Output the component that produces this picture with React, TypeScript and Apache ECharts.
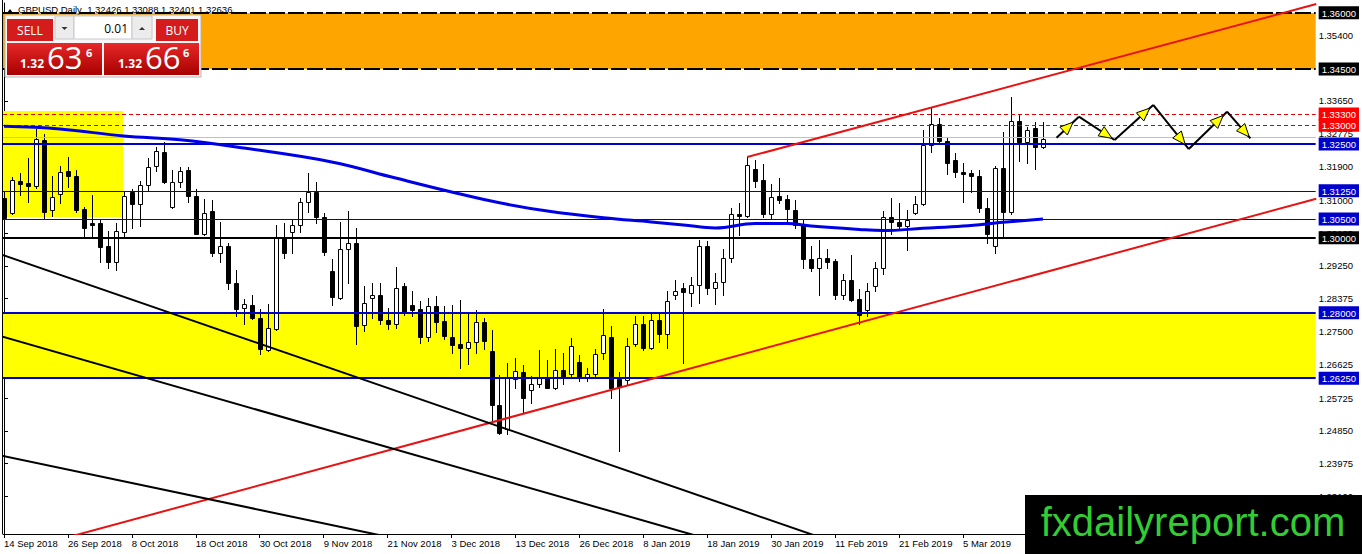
import React, { useEffect, useRef } from "react";
import * as echarts from "echarts";

// ---------- data ----------
const DATE_LABELS = [
  "14 Sep 2018", "26 Sep 2018", "8 Oct 2018", "18 Oct 2018", "30 Oct 2018", "9 Nov 2018",
  "21 Nov 2018", "3 Dec 2018", "13 Dec 2018", "26 Dec 2018", "8 Jan 2019", "18 Jan 2019",
  "30 Jan 2019", "11 Feb 2019", "21 Feb 2019", "5 Mar 2019",
];
const BARS_PER_LABEL = 8;

// daily bars [open, high, low, close] from 14 Sep 2018
const BARS_SEP_NOV = [
  [1.3105, 1.3125, 1.3045, 1.3052], [1.3065, 1.3161, 1.3062, 1.3153], [1.3150, 1.3172, 1.3113, 1.3142],
  [1.3145, 1.3212, 1.3094, 1.3137], [1.3137, 1.3290, 1.3132, 1.3263], [1.3260, 1.3276, 1.3049, 1.3068],
  [1.3073, 1.3164, 1.3057, 1.3108], [1.3116, 1.3191, 1.3092, 1.3175], [1.3177, 1.3215, 1.3134, 1.3164],
  [1.3164, 1.3180, 1.3068, 1.3073], [1.3076, 1.3081, 1.3001, 1.3025], [1.3038, 1.3113, 1.3001, 1.3033],
  [1.3038, 1.3046, 1.2934, 1.2974], [1.2979, 1.3019, 1.2918, 1.2934], [1.2934, 1.3038, 1.2915, 1.3017],
  [1.3014, 1.3121, 1.3001, 1.3110], [1.3121, 1.3129, 1.3025, 1.3089], [1.3089, 1.3150, 1.3030, 1.3140],
  [1.3140, 1.3212, 1.3124, 1.3188], [1.3191, 1.3241, 1.3177, 1.3231], [1.3228, 1.3255, 1.3145, 1.3148],
  [1.3081, 1.3180, 1.3078, 1.3148], [1.3148, 1.3188, 1.3134, 1.3177], [1.3180, 1.3188, 1.3094, 1.3110],
  [1.3110, 1.3129, 1.3009, 1.3011], [1.3011, 1.3102, 1.3006, 1.3065], [1.3070, 1.3100, 1.2950, 1.2958],
  [1.2958, 1.3041, 1.2934, 1.2979], [1.2979, 1.2987, 1.2864, 1.2878], [1.2878, 1.2915, 1.2792, 1.2811],
  [1.2813, 1.2837, 1.2771, 1.2824], [1.2821, 1.2848, 1.2784, 1.2787], [1.2787, 1.2811, 1.2690, 1.2704],
  [1.2701, 1.2824, 1.2698, 1.2760], [1.2757, 1.3033, 1.2754, 1.3003], [1.3003, 1.3038, 1.2947, 1.2958],
  [1.3014, 1.3051, 1.2958, 1.3035], [1.3035, 1.3105, 1.3014, 1.3094], [1.3094, 1.3172, 1.3068, 1.3121],
  [1.3121, 1.3148, 1.3038, 1.3054],
];
const BARS_NOV_JAN = [
  [1.3054, 1.3065, 1.2953, 1.2963], [1.2910, 1.2942, 1.2821, 1.2843], [1.2840, 1.3043, 1.2837, 1.2971],
  [1.2971, 1.3070, 1.2878, 1.2985], [1.2985, 1.3027, 1.2717, 1.2765], [1.2768, 1.2872, 1.2752, 1.2827],
  [1.2840, 1.2880, 1.2787, 1.2848], [1.2848, 1.2880, 1.2771, 1.2781], [1.2781, 1.2813, 1.2757, 1.2771],
  [1.2771, 1.2923, 1.2760, 1.2867], [1.2870, 1.2878, 1.2795, 1.2803], [1.2821, 1.2859, 1.2792, 1.2808],
  [1.2811, 1.2832, 1.2720, 1.2736], [1.2736, 1.2840, 1.2725, 1.2819], [1.2819, 1.2845, 1.2749, 1.2776],
  [1.2779, 1.2819, 1.2730, 1.2738], [1.2736, 1.2821, 1.2693, 1.2714], [1.2717, 1.2835, 1.2653, 1.2706],
  [1.2706, 1.2797, 1.2664, 1.2722], [1.2722, 1.2808, 1.2693, 1.2776], [1.2776, 1.2787, 1.2704, 1.2725],
  [1.2698, 1.2754, 1.2511, 1.2554], [1.2554, 1.2634, 1.2476, 1.2479], [1.2490, 1.2666, 1.2476, 1.2628],
  [1.2623, 1.2680, 1.2599, 1.2645], [1.2642, 1.2661, 1.2532, 1.2572], [1.2594, 1.2631, 1.2559, 1.2610],
  [1.2610, 1.2701, 1.2602, 1.2629], [1.2629, 1.2674, 1.2599, 1.2599], [1.2599, 1.2704, 1.2597, 1.2647],
  [1.2647, 1.2693, 1.2610, 1.2626], [1.2637, 1.2733, 1.2631, 1.2712], [1.2669, 1.2688, 1.2618, 1.2626],
  [1.2626, 1.2653, 1.2618, 1.2637], [1.2637, 1.2704, 1.2631, 1.2690], [1.2693, 1.2811, 1.2677, 1.2741],
  [1.2736, 1.2765, 1.2572, 1.2599], [1.2623, 1.2642, 1.2431, 1.2602], [1.2621, 1.2733, 1.2610, 1.2712],
  [1.2717, 1.2792, 1.2712, 1.2771],
];
const BARS_JAN_MAR = [
  [1.2771, 1.2792, 1.2701, 1.2706], [1.2706, 1.2797, 1.2704, 1.2781], [1.2781, 1.2797, 1.2722, 1.2744],
  [1.2744, 1.2859, 1.2706, 1.2832], [1.2848, 1.2886, 1.2837, 1.2859], [1.2867, 1.2878, 1.2666, 1.2856],
  [1.2853, 1.2894, 1.2819, 1.2875], [1.2875, 1.2995, 1.2827, 1.2977], [1.2977, 1.2990, 1.2851, 1.2867],
  [1.2867, 1.2907, 1.2824, 1.2883], [1.2883, 1.2971, 1.2848, 1.2947], [1.2947, 1.3078, 1.2936, 1.3062],
  [1.3062, 1.3092, 1.3006, 1.3057], [1.3057, 1.3215, 1.3054, 1.3193], [1.3183, 1.3207, 1.3134, 1.3150],
  [1.3153, 1.3196, 1.3054, 1.3062], [1.3062, 1.3142, 1.3051, 1.3108], [1.3110, 1.3158, 1.3092, 1.3100],
  [1.3102, 1.3113, 1.3038, 1.3076], [1.3073, 1.3100, 1.3027, 1.3033], [1.3033, 1.3046, 1.2920, 1.2942],
  [1.2942, 1.2977, 1.2912, 1.2920], [1.2920, 1.2993, 1.2848, 1.2947], [1.2947, 1.2971, 1.2918, 1.2936],
  [1.2939, 1.2942, 1.2837, 1.2848], [1.2848, 1.2904, 1.2837, 1.2886], [1.2886, 1.2955, 1.2832, 1.2835],
  [1.2837, 1.2864, 1.2771, 1.2795], [1.2808, 1.2878, 1.2792, 1.2859], [1.2872, 1.2934, 1.2859, 1.2918],
  [1.2918, 1.3070, 1.2904, 1.3054], [1.3054, 1.3105, 1.3009, 1.3041], [1.3043, 1.3092, 1.3025, 1.3030],
  [1.3030, 1.3073, 1.2966, 1.3046], [1.3065, 1.3110, 1.3062, 1.3089], [1.3089, 1.3287, 1.3086, 1.3247],
  [1.3247, 1.3346, 1.3228, 1.3303], [1.3303, 1.3319, 1.3252, 1.3258], [1.3258, 1.3266, 1.3169, 1.3199],
  [1.3207, 1.3225, 1.3161, 1.3175], [1.3175, 1.3199, 1.3094, 1.3169], [1.3172, 1.3180, 1.3121, 1.3164],
  [1.3164, 1.3180, 1.3068, 1.3078], [1.3078, 1.3105, 1.2987, 1.3009], [1.2979, 1.3190, 1.2958, 1.3185],
  [1.3185, 1.3282, 1.2998, 1.3068], [1.3068, 1.3375, 1.3062, 1.3311], [1.3311, 1.3327, 1.3204, 1.3255],
  [1.3255, 1.3295, 1.3199, 1.3287], [1.3292, 1.3308, 1.3183, 1.3241], [1.32426, 1.33088, 1.32401, 1.32636],
];

// moving average (thick blue) read at selected bars
const MA_BARS = [0, 7, 15, 22, 30, 41, 49, 56, 62, 68, 75, 81, 85, 89, 94, 98, 101, 107, 110, 115, 120, 125, 130];
const MA_VALUES = [1.3297, 1.3290, 1.3271, 1.3261, 1.3239, 1.3202, 1.3159, 1.3122, 1.3093, 1.3071, 1.3053, 1.3042,
  1.3034, 1.3026, 1.3038, 1.3038, 1.3031, 1.3022, 1.3019, 1.3025, 1.3031, 1.3041, 1.3050];

// zones [low, high]
const ORANGE_ZONE = [1.345, 1.36];
const YELLOW_BAND = [1.2625, 1.28];
const YELLOW_BOX = [1.3056, 1.3338];
const YELLOW_BOX_LAST_BAR = 14.9;

// horizontal levels
const BLACK_DASHED_LEVELS = [1.36, 1.345];
const RED_DASHED_LEVELS = [1.333, 1.33];
const PRICE_LINE_LEVELS = [1.3268];
const BLUE_THICK_LEVELS = [1.325, 1.28, 1.2625];
const BLUE_THIN_LEVELS = [1.3125, 1.305];
const BLACK_THICK_LEVELS = [1.3];

// right-scale tick labels
const Y_TICKS = [1.354, 1.3365, 1.32775, 1.319, 1.31, 1.30125, 1.2925, 1.28375, 1.275, 1.26625, 1.25725, 1.2485, 1.23975, 1.231];

// trend lines [bar, price]
const RED_UPPER = [[93, 1.3215], [164.2, 1.3623]];
const RED_LOWER = [[0, 1.2155], [164.2, 1.3104]];
const BLACK_A = [[-1, 1.2960], [110, 1.2143]];
const BLACK_B = [[-1, 1.2741], [95, 1.2154]];
const BLACK_C = [[-1, 1.2422], [55, 1.2171]];

// projected zigzag path
const PROJ_BARS = [131.7, 134.5, 138.96, 143.8, 148.25, 153.04, 155.96];
const PROJ_PRICES = [1.32667, 1.33227, 1.32605, 1.33539, 1.32365, 1.3336, 1.32651];

// header / trade panel
const SYMBOL = "GBPUSD,Daily";
const LAST_OHLC = ["1.32426", "1.33088", "1.32401", "1.32636"];
const BID_PARTS = ["1.32", "63", "6"];
const ASK_PARTS = ["1.32", "66", "6"];
const LOT = "0.01";
const WATERMARK = "fxdailyreport.com";

// ---------- view ----------
const X_MIN = -0.125;
const X_MAX = 164.125;
const Y_MIN = 1.220987;
const Y_MAX = 1.362587;
const AXIS_FONT = '"Liberation Sans", Arial, sans-serif';
const BLUE = "#0000cd";
const RED = "#e81212";
const ARROW_TIP_AT = [0.74, 0.93, 0.91, 0.9, 0.9, 0.95];

const ALL_BARS = [...BARS_SEP_NOV, ...BARS_NOV_JAN, ...BARS_JAN_MAR];
const candleData = ALL_BARS.map((r, i) => [i, r[0], r[1], r[2], r[3]]);

const zoneData = [
  [X_MIN, X_MAX, ORANGE_ZONE[0], ORANGE_ZONE[1]],
  [X_MIN, X_MAX, YELLOW_BAND[0], YELLOW_BAND[1]],
  [X_MIN, YELLOW_BOX_LAST_BAR, YELLOW_BOX[0], YELLOW_BOX[1]],
];
const ZONE_COLORS = ["#ffa500", "#ffff00", "#ffff00"];

type LineKind = { stroke: string; width: number; dash?: number[] };
const KIND_BLACK_DASH: LineKind = { stroke: "#000", width: 2, dash: [16, 3] };
const KIND_RED_DASH: LineKind = { stroke: "#e00000", width: 1, dash: [4, 3] };
const KIND_GRAY: LineKind = { stroke: "#c0c0c0", width: 1 };
const KIND_BLUE_THICK: LineKind = { stroke: BLUE, width: 2 };
const KIND_BLUE_THIN: LineKind = { stroke: BLUE, width: 1 };
const KIND_BLACK_THICK: LineKind = { stroke: "#000", width: 2 };

const levelEntries: { v: number; k: LineKind }[] = [
  ...PRICE_LINE_LEVELS.map((v) => ({ v, k: KIND_GRAY })),
  ...BLACK_DASHED_LEVELS.map((v) => ({ v, k: KIND_BLACK_DASH })),
  ...RED_DASHED_LEVELS.map((v) => ({ v, k: KIND_RED_DASH })),
  ...BLUE_THIN_LEVELS.map((v) => ({ v, k: KIND_BLUE_THIN })),
  ...BLUE_THICK_LEVELS.map((v) => ({ v, k: KIND_BLUE_THICK })),
  ...BLACK_THICK_LEVELS.map((v) => ({ v, k: KIND_BLACK_THICK })),
];

const boxedLabel: Record<string, string> = {};
BLACK_DASHED_LEVELS.forEach((v) => (boxedLabel[v.toFixed(5)] = "blk"));
BLACK_THICK_LEVELS.forEach((v) => (boxedLabel[v.toFixed(5)] = "blk"));
RED_DASHED_LEVELS.forEach((v) => (boxedLabel[v.toFixed(5)] = "red"));
BLUE_THICK_LEVELS.forEach((v) => (boxedLabel[v.toFixed(5)] = "blu"));
BLUE_THIN_LEVELS.forEach((v) => (boxedLabel[v.toFixed(5)] = "blu"));
const BOXED_VALUES = [...BLACK_DASHED_LEVELS, ...RED_DASHED_LEVELS, ...BLUE_THICK_LEVELS, ...BLUE_THIN_LEVELS, ...BLACK_THICK_LEVELS];

const projSegments = PROJ_BARS.slice(0, -1).map((b, i) => [b, PROJ_PRICES[i], PROJ_BARS[i + 1], PROJ_PRICES[i + 1]]);

const boxRich = (bg: string) => ({
  backgroundColor: bg,
  color: "#fff",
  fontSize: 9.5,
  fontFamily: AXIS_FONT,
  padding: [2, 3, 1, 3],
});

function renderCandle(params: any, api: any) {
  const i = api.value(0);
  const o = api.value(1), h = api.value(2), l = api.value(3), c = api.value(4);
  const X = Math.round(api.coord([i, o])[0]);
  const yO = api.coord([i, o])[1];
  const yC = api.coord([i, c])[1];
  const yH = Math.round(api.coord([i, h])[1]);
  const yL = Math.round(api.coord([i, l])[1]);
  const top = Math.round(Math.min(yO, yC));
  const bot = Math.round(Math.max(yO, yC));
  const bull = c >= o;
  const children: any[] = [
    { type: "line", shape: { x1: X + 0.5, y1: yH, x2: X + 0.5, y2: yL + 1 }, style: { stroke: "#000", lineWidth: 1 } },
  ];
  if (bot - top < 1) {
    children.push({ type: "line", shape: { x1: X - 2, y1: top + 0.5, x2: X + 3, y2: top + 0.5 }, style: { stroke: "#000", lineWidth: 1 } });
  } else {
    children.push({
      type: "rect",
      shape: { x: X - 1.5, y: top + 0.5, width: 4, height: bot - top },
      style: { fill: bull ? "#fff" : "#000", stroke: "#000", lineWidth: 1 },
    });
  }
  return { type: "group", children };
}

function renderZone(params: any, api: any) {
  const cs = params.coordSys;
  const a = api.coord([api.value(0), api.value(3)]);
  const b = api.coord([api.value(1), api.value(2)]);
  const x0 = Math.max(cs.x, Math.min(a[0], b[0]));
  const x1 = Math.min(cs.x + cs.width, Math.max(a[0], b[0]));
  const y0 = Math.round(Math.min(a[1], b[1]));
  const y1 = Math.round(Math.max(a[1], b[1]));
  return {
    type: "rect",
    shape: { x: x0, y: y0, width: x1 - x0, height: y1 - y0 },
    style: { fill: ZONE_COLORS[params.dataIndex] },
  };
}

function renderLevel(params: any, api: any) {
  const cs = params.coordSys;
  const entry = levelEntries[params.dataIndex];
  const raw = api.coord([0, api.value(0)])[1];
  const y = entry.k.width % 2 === 1 ? Math.round(raw) + 0.5 : Math.round(raw);
  return {
    type: "line",
    shape: { x1: cs.x, y1: y, x2: cs.x + cs.width, y2: y },
    style: { stroke: entry.k.stroke, lineWidth: entry.k.width, lineDash: entry.k.dash || null },
  };
}

function renderArrow(params: any, api: any) {
  const a = api.coord([api.value(0), api.value(1)]);
  const b = api.coord([api.value(2), api.value(3)]);
  const f = ARROW_TIP_AT[params.dataIndex];
  const dx = b[0] - a[0], dy = b[1] - a[1];
  const len = Math.hypot(dx, dy) || 1;
  const ux = dx / len, uy = dy / len;
  const tip = [a[0] + dx * f, a[1] + dy * f];
  const base = [tip[0] - ux * 13, tip[1] - uy * 13];
  const nx = -uy, ny = ux;
  return {
    type: "group",
    children: [
      { type: "line", shape: { x1: a[0], y1: a[1], x2: b[0], y2: b[1] }, style: { stroke: "#000", lineWidth: 2 } },
      {
        type: "polygon",
        shape: { points: [tip, [base[0] + nx * 5.5, base[1] + ny * 5.5], [base[0] - nx * 5.5, base[1] - ny * 5.5]] },
        style: { fill: "#ffff00", stroke: "#000", lineWidth: 1 },
      },
    ],
  };
}

const trendSeries = (data: number[][], color: string) => ({
  type: "line",
  data,
  symbol: "none",
  silent: true,
  z: 5,
  clip: true,
  lineStyle: { color, width: 2 },
});

const priceGradient = () =>
  new echarts.graphic.LinearGradient(0, 0, 0, 1, [
    { offset: 0, color: "#e62828" },
    { offset: 1, color: "#a80000" },
  ]);

const PANEL_FONT = '"Open Sans", "Noto Sans", sans-serif';

const graphics: any[] = [
  { type: "rect", z: 100, shape: { x: 2, y: 0, width: 1, height: 534 }, style: { fill: "#000" } },
  { type: "polygon", z: 100, shape: { points: [[7, 13], [10, 9], [13, 13]] }, style: { fill: "#000" } },
  {
    type: "text", z: 100, x: 18, y: 9.5,
    style: { text: `${SYMBOL}  ${LAST_OHLC.join(" ")}`, fill: "#000", font: `9.5px ${AXIS_FONT}`, verticalAlign: "middle" },
  },
  // trade panel
  { type: "rect", z: 100, shape: { x: 5, y: 15, width: 196, height: 62 }, style: { fill: "#f7f7f7", stroke: "#b4b4b4", lineWidth: 1 } },
  { type: "rect", z: 101, shape: { x: 7, y: 19, width: 46, height: 22 }, style: { fill: "#d41c1c" } },
  { type: "text", z: 102, x: 30, y: 30, style: { text: "SELL", fill: "#fff", font: `12px ${PANEL_FONT}`, align: "center", verticalAlign: "middle" } },
  { type: "rect", z: 101, shape: { x: 55, y: 16, width: 19, height: 23 }, style: { fill: "#ececec", stroke: "#c8c8c8" } },
  { type: "polygon", z: 102, shape: { points: [[61.5, 27], [67.5, 27], [64.5, 30]] }, style: { fill: "#333" } },
  { type: "rect", z: 101, shape: { x: 74, y: 16, width: 58, height: 23 }, style: { fill: "#fff", stroke: "#c8c8c8" } },
  { type: "text", z: 102, x: 128, y: 28, style: { text: LOT, fill: "#000", font: `12px ${PANEL_FONT}`, align: "right", verticalAlign: "middle" } },
  { type: "rect", z: 101, shape: { x: 132, y: 16, width: 20, height: 23 }, style: { fill: "#ececec", stroke: "#c8c8c8" } },
  { type: "polygon", z: 102, shape: { points: [[139, 30], [145, 30], [142, 27]] }, style: { fill: "#333" } },
  { type: "rect", z: 101, shape: { x: 156, y: 19, width: 42, height: 22 }, style: { fill: "#d41c1c" } },
  { type: "text", z: 102, x: 177, y: 30, style: { text: "BUY", fill: "#fff", font: `12px ${PANEL_FONT}`, align: "center", verticalAlign: "middle" } },
  { type: "rect", z: 101, shape: { x: 7, y: 43, width: 95, height: 32 }, style: { fill: priceGradient() } },
  { type: "rect", z: 101, shape: { x: 104, y: 43, width: 95, height: 32 }, style: { fill: priceGradient() } },
  { type: "text", z: 102, x: 20, y: 63, style: { text: BID_PARTS[0], fill: "#fff", font: `bold 12px ${PANEL_FONT}`, verticalAlign: "middle" } },
  { type: "text", z: 102, x: 47, y: 57, style: { text: BID_PARTS[1], fill: "#fff", font: `31px ${PANEL_FONT}`, verticalAlign: "middle" } },
  { type: "text", z: 102, x: 86, y: 52, style: { text: BID_PARTS[2], fill: "#fff", font: `bold 11px ${PANEL_FONT}`, verticalAlign: "middle" } },
  { type: "text", z: 102, x: 118, y: 63, style: { text: ASK_PARTS[0], fill: "#fff", font: `bold 12px ${PANEL_FONT}`, verticalAlign: "middle" } },
  { type: "text", z: 102, x: 145, y: 57, style: { text: ASK_PARTS[1], fill: "#fff", font: `31px ${PANEL_FONT}`, verticalAlign: "middle" } },
  { type: "text", z: 102, x: 183, y: 52, style: { text: ASK_PARTS[2], fill: "#fff", font: `bold 11px ${PANEL_FONT}`, verticalAlign: "middle" } },
  // watermark
  { type: "rect", z: 110, shape: { x: 1025, y: 495, width: 337, height: 59 }, style: { fill: "#000" } },
  {
    type: "text", z: 111, x: 1193, y: 522,
    style: { text: WATERMARK, fill: "#33cc33", font: `40px ${AXIS_FONT}`, align: "center", verticalAlign: "middle" },
  },
];

const option: any = {
  animation: false,
  backgroundColor: "#fff",
  grid: { left: 3, right: 45, top: 3, bottom: 20, containLabel: false },
  xAxis: {
    type: "value",
    min: X_MIN,
    max: X_MAX,
    axisLine: { show: true, lineStyle: { color: "#000", width: 1 } },
    axisTick: {
      show: true,
      length: 4,
      lineStyle: { color: "#000" },
      customValues: DATE_LABELS.map((_, i) => i * BARS_PER_LABEL),
    },
    axisLabel: {
      customValues: DATE_LABELS.map((_, i) => i * BARS_PER_LABEL),
      formatter: (v: number) => DATE_LABELS[Math.round(v / BARS_PER_LABEL)] || "",
      align: "left",
      margin: 4,
      color: "#000",
      fontSize: 9.5,
      fontFamily: AXIS_FONT,
    },
    splitLine: { show: false },
  },
  yAxis: {
    type: "value",
    position: "right",
    min: Y_MIN,
    max: Y_MAX,
    axisLine: { show: true, lineStyle: { color: "#000", width: 1 } },
    axisTick: { show: true, length: 4, lineStyle: { color: "#000" }, customValues: Y_TICKS },
    axisLabel: {
      customValues: [...Y_TICKS, ...BOXED_VALUES],
      formatter: (v: number) => {
        const t = v.toFixed(5);
        const k = boxedLabel[t];
        return k ? `{${k}|${t}}` : t;
      },
      margin: 3,
      color: "#000",
      fontSize: 9.5,
      fontFamily: AXIS_FONT,
      rich: { blk: boxRich("#000"), red: boxRich("#ff0000"), blu: boxRich(BLUE) },
    },
    splitLine: { show: false },
  },
  graphic: { elements: graphics },
  series: [
    { type: "custom", name: "zones", data: zoneData, renderItem: renderZone, z: 1, silent: true },
    { type: "custom", name: "GBPUSD", data: candleData, renderItem: renderCandle, z: 2, silent: true },
    { type: "custom", name: "levels", data: levelEntries.map((e) => [e.v]), renderItem: renderLevel, z: 3, silent: true },
    {
      type: "line",
      name: "MA",
      data: MA_BARS.map((b, i) => [b, MA_VALUES[i]]),
      smooth: 0.4,
      symbol: "none",
      silent: true,
      z: 4,
      lineStyle: { color: "#0000e6", width: 3 },
    },
    trendSeries(RED_UPPER, RED),
    trendSeries(RED_LOWER, RED),
    trendSeries(BLACK_A, "#000"),
    trendSeries(BLACK_B, "#000"),
    trendSeries(BLACK_C, "#000"),
    { type: "custom", name: "projection", data: projSegments, renderItem: renderArrow, z: 6, silent: true },
  ],
};

export default function App() {
  const ref = useRef<HTMLDivElement>(null);
  useEffect(() => {
    if (!ref.current) return;
    const chart = echarts.init(ref.current, null, { renderer: "svg" });
    chart.setOption(option);
    return () => chart.dispose();
  }, []);
  return (
    <div
      ref={ref}
      style={{ position: "fixed", left: 0, top: 0, width: 1362, height: 554, background: "#fff" }}
    />
  );
}
